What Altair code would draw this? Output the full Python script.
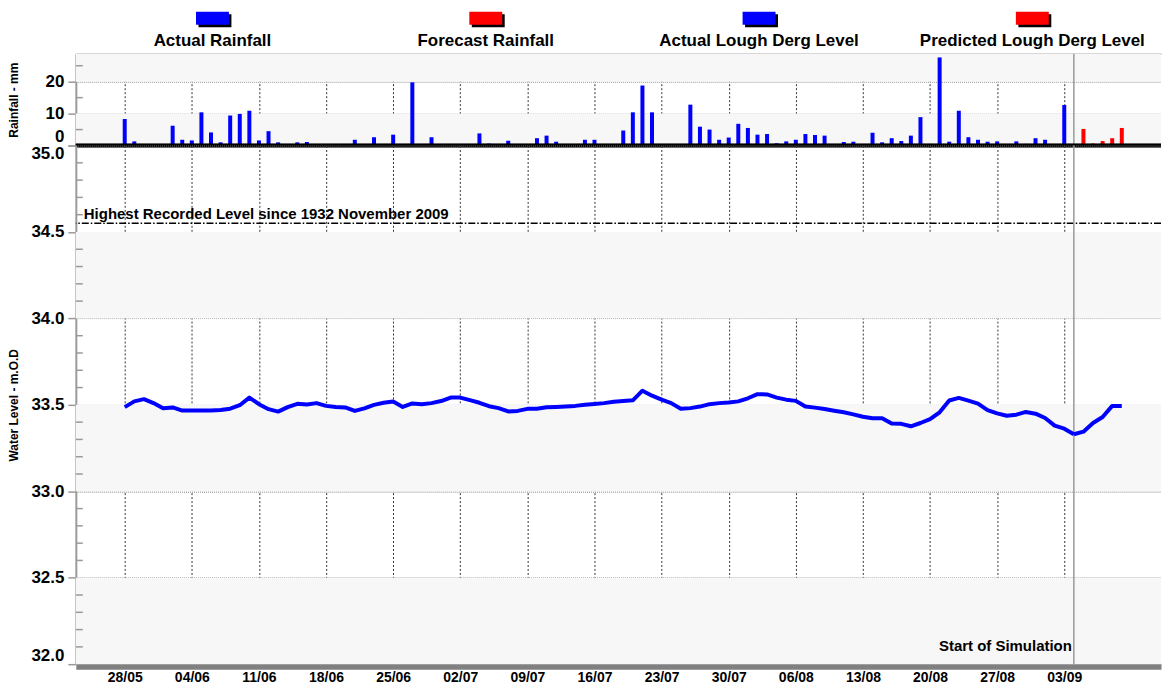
import altair as alt
import pandas as pd

# ---------------- data ----------------
series_start = "2013-05-28"          # first day of the actual series (28/05)
forecast_start = "2013-09-05"        # first day of forecast rainfall
predicted_start = "2013-09-04"       # start of simulation (04/09)

# Actual Lough Derg level (m O.D.), daily from 28/05 to 04/09
level_actual = [
    33.487, 33.520, 33.533, 33.510, 33.480, 33.485, 33.467, 33.467, 33.467, 33.467,
    33.470, 33.478, 33.498, 33.542, 33.504, 33.475, 33.461, 33.487, 33.506, 33.502,
    33.510, 33.494, 33.487, 33.485, 33.465, 33.480, 33.500, 33.512, 33.519, 33.488,
    33.508, 33.504, 33.510, 33.522, 33.542, 33.542, 33.527, 33.512, 33.492, 33.481,
    33.462, 33.465, 33.477, 33.478, 33.486, 33.488, 33.491, 33.494, 33.500, 33.505,
    33.510, 33.518, 33.522, 33.526, 33.582, 33.553, 33.530, 33.510, 33.477, 33.481,
    33.490, 33.504, 33.510, 33.513, 33.520, 33.538, 33.562, 33.560, 33.542, 33.530,
    33.523, 33.490, 33.484, 33.476, 33.466, 33.457, 33.445, 33.431, 33.423, 33.423,
    33.392, 33.390, 33.376, 33.395, 33.417, 33.457, 33.525, 33.540, 33.524, 33.507,
    33.470, 33.451, 33.437, 33.443, 33.459, 33.449, 33.424, 33.380, 33.362, 33.330,
]
# Predicted Lough Derg level, daily from 04/09
level_predicted = [33.330, 33.345, 33.395, 33.430, 33.494, 33.494]

# Actual rainfall (mm), daily from 28/05 to 04/09
rain_actual = [
    8.3, 1.3, 0.3, 0.0, 0.3, 6.2, 1.8, 1.6, 10.4, 4.1,
    1.0, 9.4, 9.9, 10.9, 1.6, 4.5, 1.0, 0.0, 1.0, 1.1,
    0.3, 0.0, 0.0, 0.0, 1.8, 0.4, 2.6, 0.4, 3.4, 0.3,
    19.8, 0.4, 2.6, 0.3, 0.0, 0.0, 0.3, 3.8, 0.6, 0.3,
    1.5, 0.3, 0.0, 2.3, 3.1, 1.2, 0.3, 0.3, 1.8, 1.8,
    0.0, 0.0, 4.7, 10.4, 18.8, 10.4, 0.3, 0.0, 0.0, 12.8,
    5.9, 5.0, 1.8, 2.5, 6.8, 5.5, 3.4, 3.6, 0.7, 1.3,
    1.8, 3.6, 3.3, 3.1, 0.3, 1.1, 1.2, 0.0, 4.0, 1.0,
    2.3, 1.4, 3.1, 8.9, 0.5, 27.6, 1.2, 10.9, 2.6, 1.8,
    1.2, 1.3, 0.3, 1.3, 0.5, 2.3, 1.8, 0.0, 12.7, 0.3,
]
# Forecast rainfall (mm), daily from 05/09
rain_forecast = [5.2, 0.6, 1.4, 2.3, 5.5]

week_ticks = ["2013-05-28", "2013-06-04", "2013-06-11", "2013-06-18", "2013-06-25",
              "2013-07-02", "2013-07-09", "2013-07-16", "2013-07-23", "2013-07-30",
              "2013-08-06", "2013-08-13", "2013-08-20", "2013-08-27", "2013-09-03"]
x_domain = ["2013-05-22T21:36", "2013-09-13T02:10"]

rain_ticks = [0, 10, 20]
rain_minor = [5, 15, 25]
rain_max = 28.75
rain_bands = [[0, 10], [20, 28.75]]

level_ticks = [32.0, 32.5, 33.0, 33.5, 34.0, 34.5, 35.0]
level_minor = [32.1, 32.2, 32.3, 32.4, 32.6, 32.7, 32.8, 32.9, 33.1, 33.2, 33.3, 33.4,
               33.6, 33.7, 33.8, 33.9, 34.1, 34.2, 34.3, 34.4, 34.6, 34.7, 34.8, 34.9]
level_bands = [[34.0, 34.5], [33.0, 33.5], [32.0, 32.5]]

highest_level = 34.55
highest_label = "Highest Recorded Level since 1932 November 2009"
sim_label = "Start of Simulation"

legend_labels = ["Actual Rainfall", "Forecast Rainfall",
                 "Actual Lough Derg Level", "Predicted Lough Derg Level"]
legend_colors = ["#0000ff", "#ff0000", "#0000ff", "#ff0000"]

# ---------------- helpers ----------------
FONT = "Liberation Sans"
W = 1088
BAND_W = 274
H_LEG, H_RAIN, H_LEVEL = 45, 92, 520
BLUE, RED = "#0000ff", "#ff0000"
BAND = "#f7f7f7"


def days_from(start, n):
    t0 = pd.Timestamp(start)
    return [(t0 + pd.Timedelta(days=i)).strftime("%Y-%m-%dT%H:%M") for i in range(n)]


def dt(s):
    t = pd.Timestamp(s)
    return alt.DateTime(year=t.year, month=t.month, date=t.day, hours=t.hour, minutes=t.minute)


x_scale = alt.Scale(domain=[dt(x_domain[0]), dt(x_domain[1])])
tick_dt = [dt(s) for s in week_ticks]

x_axis_top = alt.Axis(orient="top", values=tick_dt, labels=False, ticks=False, title=None,
                      domainColor="#9a9a9a", domainWidth=1.5,
                      grid=True, gridColor="#333333", gridDash=[2, 2], gridWidth=1)
x_axis_bottom = alt.Axis(orient="bottom", values=tick_dt, format="%d/%m", title=None,
                         ticks=False, tickSize=0, labelPadding=4, offset=2,
                         labelFont=FONT, labelFontSize=14, labelFontWeight="bold",
                         labelColor="#000000",
                         domainColor="#808080", domainWidth=6,
                         grid=True, gridColor="#333333", gridDash=[2, 2], gridWidth=1)

rain_axis = alt.Axis(values=rain_ticks, title="Rainfall - mm", labelFlush=True,
                     titleX=-55, titleFont=FONT, titleFontSize=12, titleFontWeight="bold",
                     titleColor="#000000",
                     labelFont=FONT, labelFontSize=17, labelFontWeight="bold",
                     labelColor="#000000", labelPadding=4,
                     tickSize=8, tickColor="#9a9a9a", tickWidth=1.5,
                     domainColor="#9a9a9a", domainWidth=2,
                     grid=True, gridColor="#777777", gridDash=[1, 1], gridWidth=1)
level_axis = alt.Axis(values=level_ticks, format=".1f", title="Water Level - m.O.D",
                      labelFlush=True, titleX=-55, titleFont=FONT, titleFontSize=12,
                      titleFontWeight="bold", titleColor="#000000",
                      labelFont=FONT, labelFontSize=17, labelFontWeight="bold",
                      labelColor="#000000", labelPadding=4,
                      tickSize=8, tickColor="#9a9a9a", tickWidth=1.5,
                      domainColor="#9a9a9a", domainWidth=2,
                      grid=True, gridColor="#777777", gridDash=[1, 1], gridWidth=1)

rain_scale = alt.Scale(domain=[0, rain_max], nice=False, zero=False)
level_scale = alt.Scale(domain=[32.0, 35.0], nice=False, zero=False)


def XR(field="date"):
    return alt.X(f"{field}:T", scale=x_scale, axis=x_axis_top, title=None)


def XL(field="date"):
    return alt.X(f"{field}:T", scale=x_scale, axis=x_axis_bottom, title=None)


def YR(field="v"):
    return alt.Y(f"{field}:Q", scale=rain_scale, axis=rain_axis, title="Rainfall - mm")


def YL(field="v"):
    return alt.Y(f"{field}:Q", scale=level_scale, axis=level_axis, title="Water Level - m.O.D")


# ---------------- tables ----------------
rain_df = pd.DataFrame({
    "date": days_from(series_start, len(rain_actual)) + days_from(forecast_start, len(rain_forecast)),
    "v": rain_actual + rain_forecast,
    "kind": ["Actual"] * len(rain_actual) + ["Forecast"] * len(rain_forecast),
})
level_df = pd.DataFrame({
    "date": days_from(series_start, len(level_actual)) + days_from(predicted_start, len(level_predicted)),
    "v": level_actual + level_predicted,
    "kind": ["Actual"] * len(level_actual) + ["Predicted"] * len(level_predicted),
})
sim_df = pd.DataFrame({"date": [days_from(predicted_start, 1)[0]], "label": [sim_label]})
rain_band_df = pd.DataFrame({"v": [b[0] for b in rain_bands], "v2": [b[1] for b in rain_bands]})
level_band_df = pd.DataFrame({"v": [b[0] for b in level_bands], "v2": [b[1] for b in level_bands]})
rain_minor_df = pd.DataFrame({"v": rain_minor})
level_minor_df = pd.DataFrame({"v": level_minor})
highest_df = pd.DataFrame({"v": [highest_level], "label": [highest_label]})
legend_df = pd.DataFrame({"label": legend_labels, "color": legend_colors})

# ---------------- legend row ----------------
leg_x = alt.X("label:N", sort=legend_labels, axis=None,
              scale=alt.Scale(paddingInner=0, paddingOuter=0, range=[0, 4 * BAND_W]))
leg_shadow = alt.Chart(legend_df).mark_bar(size=33, color="#000000", xOffset=2.5).encode(
    x=leg_x, y=alt.value(5.5), y2=alt.value(18.5))
leg_box = alt.Chart(legend_df).mark_bar(size=33).encode(
    x=leg_x, y=alt.value(3), y2=alt.value(16),
    color=alt.Color("color:N", scale=None, legend=None))
leg_text = alt.Chart(legend_df).mark_text(font=FONT, fontSize=17, fontWeight="bold",
                                          baseline="alphabetic", align="center",
                                          color="#000000").encode(
    x=leg_x, y=alt.value(37), text="label:N")
legend = alt.layer(leg_shadow, leg_box, leg_text).properties(width=W, height=H_LEG)

# ---------------- rainfall panel ----------------
r_band = alt.Chart(rain_band_df).mark_rect(color=BAND).encode(
    x=alt.value(0), x2=alt.value(W), y=YR("v"), y2="v2:Q")
r_minor = alt.Chart(rain_minor_df).mark_rule(color="#9a9a9a", strokeWidth=1.5).encode(
    x=alt.value(0), x2=alt.value(7), y=YR("v"))
r_sim = alt.Chart(sim_df).mark_rule(color="#999999", strokeWidth=1.5).encode(x=XR("date"))
r_bars = alt.Chart(rain_df).mark_rule(strokeWidth=4).encode(
    x=XR("date"), y=YR("v"), y2=alt.datum(0),
    color=alt.Color("kind:N", scale=alt.Scale(domain=["Actual", "Forecast"], range=[BLUE, RED]),
                    legend=None))
r_base = alt.Chart(rain_minor_df).mark_rule(color="#000000", strokeWidth=3.5).encode(
    y=alt.datum(0))
rain = alt.layer(r_band, r_minor, r_sim, r_bars, r_base).properties(width=W, height=H_RAIN)

# ---------------- water level panel ----------------
l_band = alt.Chart(level_band_df).mark_rect(color=BAND).encode(
    x=alt.value(0), x2=alt.value(W), y=YL("v"), y2="v2:Q")
l_minor = alt.Chart(level_minor_df).mark_rule(color="#9a9a9a", strokeWidth=1.5).encode(
    x=alt.value(0), x2=alt.value(7), y=YL("v"))
l_high = alt.Chart(highest_df).mark_rule(color="#000000", strokeWidth=1.5,
                                         strokeDash=[7, 2, 1.5, 2]).encode(y=YL("v"))
l_high_txt = alt.Chart(highest_df).mark_text(font=FONT, fontSize=15, fontWeight="bold",
                                             align="left", baseline="alphabetic", dy=-4,
                                             color="#000000").encode(
    x=alt.value(8), y=YL("v"), text="label:N")
l_sim = alt.Chart(sim_df).mark_rule(color="#999999", strokeWidth=1.5).encode(x=XL("date"))
l_sim_txt = alt.Chart(sim_df).mark_text(font=FONT, fontSize=15, fontWeight="bold",
                                        align="right", baseline="middle", dx=-2,
                                        color="#000000").encode(
    x=XL("date"), y=alt.value(502), text="label:N")
l_line = alt.Chart(level_df).mark_line(strokeWidth=4, strokeJoin="round").encode(
    x=XL("date"), y=YL("v"),
    color=alt.Color("kind:N", scale=alt.Scale(domain=["Actual", "Predicted"], range=[BLUE, RED]),
                    legend=None))
level = alt.layer(l_band, l_minor, l_high, l_high_txt, l_sim, l_line, l_sim_txt).properties(
    width=W, height=H_LEVEL)

chart = alt.vconcat(legend, rain, level, spacing=0, bounds="flush").properties(
    padding={"left": 0, "top": 0, "right": 0, "bottom": 0}
).configure_view(stroke=None)

chart.save("out.html", embed_options={"renderer": "svg", "actions": False})
